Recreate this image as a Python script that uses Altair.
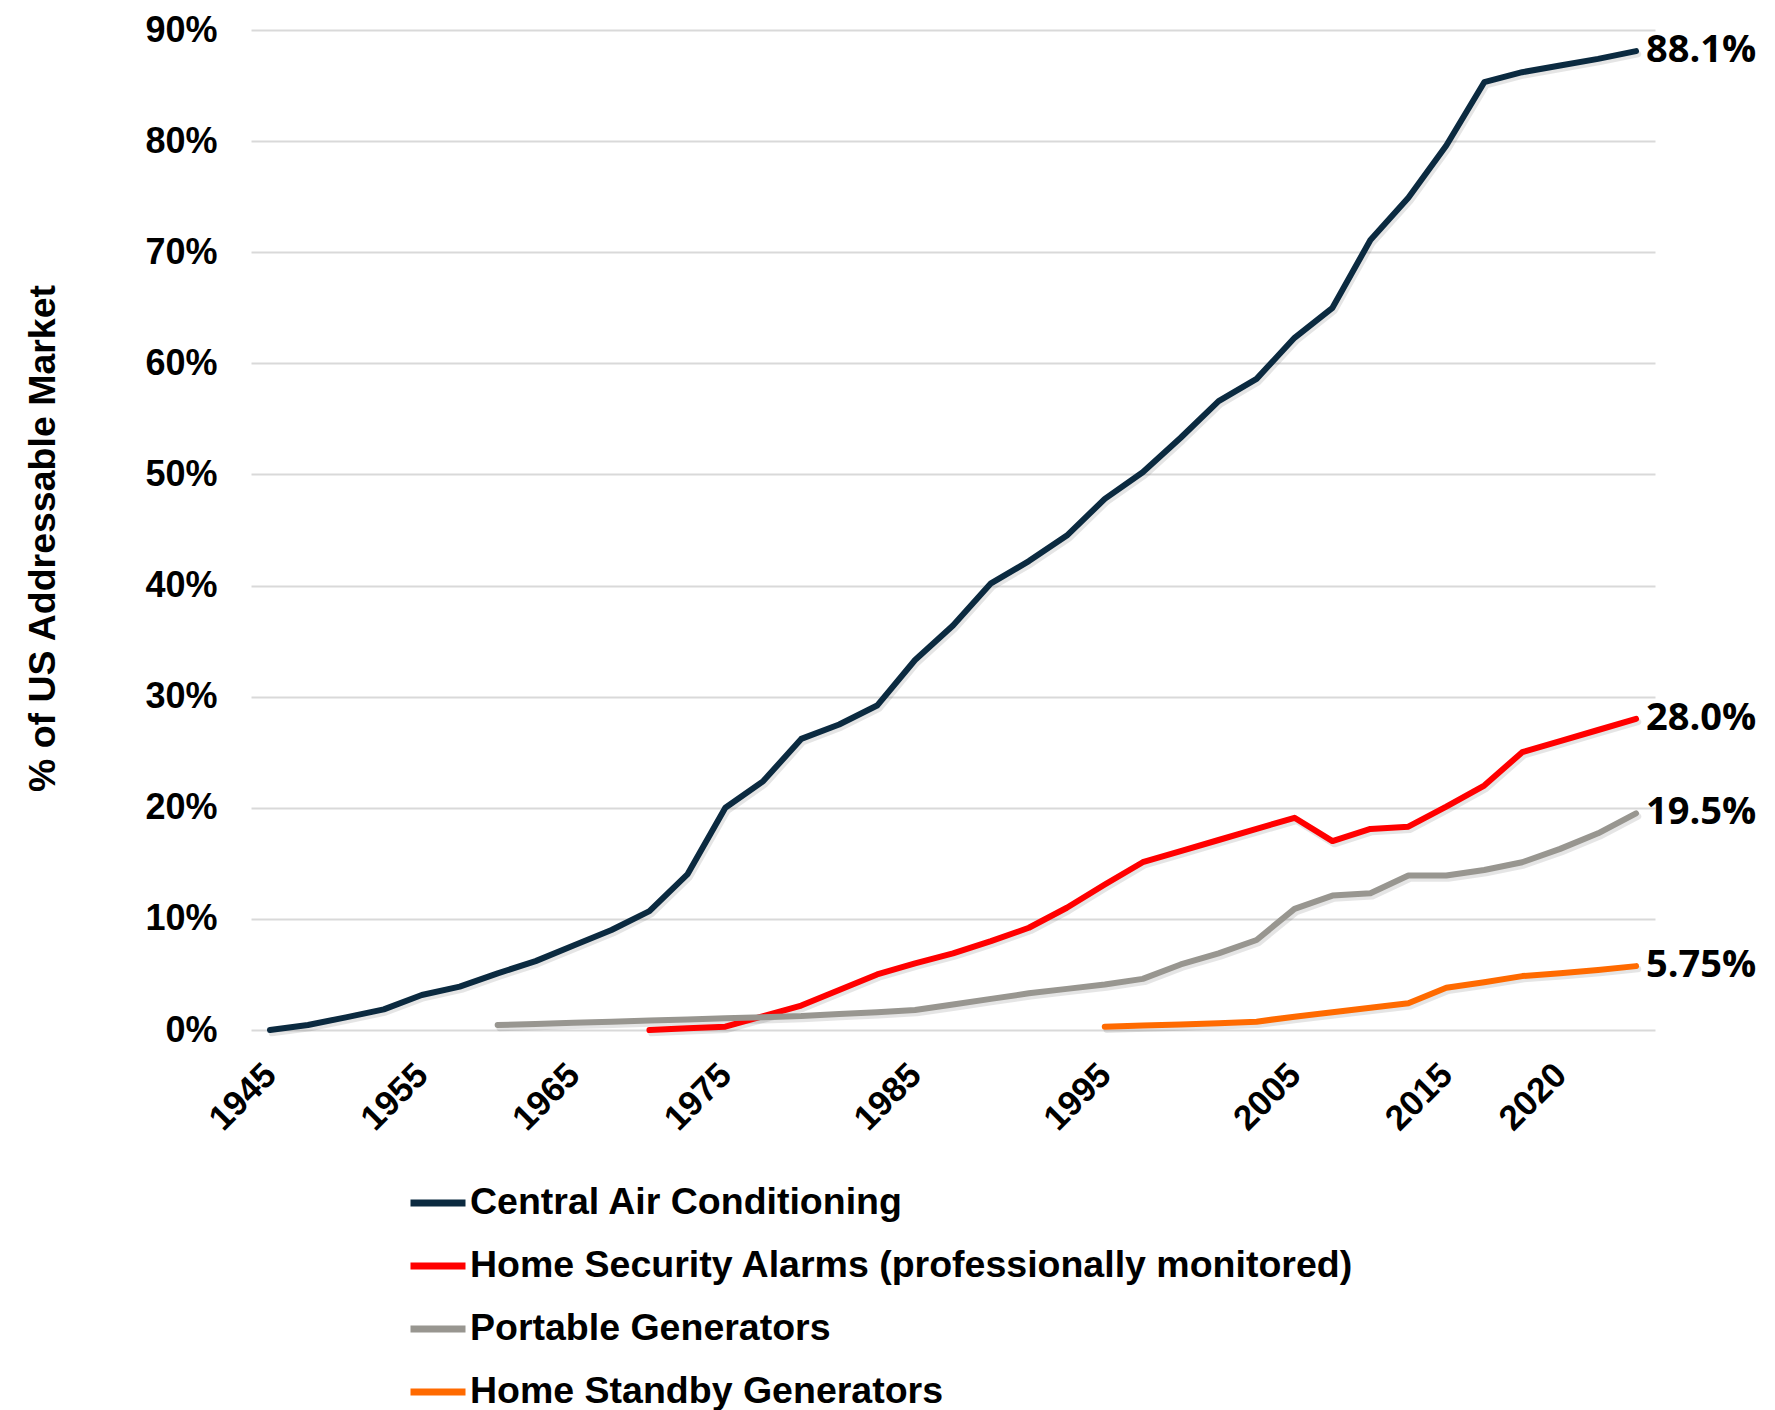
import altair as alt
import pandas as pd

# Category axis: 37 periods, only some carry a year label
period_labels = [
    "1945", "", "", "", "1955", "", "", "", "1965", "", "", "", "1975",
    "", "", "", "", "1985", "", "", "", "", "1995", "", "", "", "", "2005",
    "", "", "", "2015", "", "", "2020", "", "",
]

series_names = [
    "Central Air Conditioning",
    "Home Security Alarms (professionally monitored)",
    "Portable Generators",
    "Home Standby Generators",
]
series_colors = ["#0B2A40", "#FF0000", "#989690", "#FF6A00"]

# Adoption, % of addressable market; each series starts at its first period
central_ac = [0.0, 0.45, 1.14, 1.86, 3.15, 3.9, 5.1, 6.2, 7.6, 9.0, 10.7, 14.0,
              20.0, 22.4, 26.2, 27.5, 29.2, 33.3, 36.4, 40.2, 42.2, 44.5, 47.8,
              50.2, 53.3, 56.6, 58.6, 62.3, 65.0, 71.1, 74.9, 79.6, 85.3, 86.2,
              86.8, 87.4, 88.1]
security_start = 10
security_alarms = [0.0, 0.15, 0.3, 1.25, 2.2, 3.6, 5.0, 6.0, 6.9, 8.0, 9.2, 11.0,
                   13.1, 15.1, 16.1, 17.1, 18.1, 19.1, 17.0, 18.1, 18.3, 20.1,
                   22.0, 25.0, 26.0, 27.0, 28.0]
portable_start = 6
portable_gens = [0.45, 0.55, 0.65, 0.75, 0.85, 0.95, 1.05, 1.15, 1.26, 1.45, 1.6,
                 1.8, 2.3, 2.8, 3.3, 3.7, 4.1, 4.6, 5.9, 6.9, 8.1, 10.9, 12.1,
                 12.3, 13.9, 13.9, 14.4, 15.1, 16.3, 17.7, 19.5]
standby_start = 22
standby_gens = [0.3, 0.4, 0.5, 0.6, 0.75, 1.2, 1.6, 2.0, 2.4, 3.8, 4.3, 4.85,
                5.1, 5.4, 5.75]

y_ticks = [0, 10, 20, 30, 40, 50, 60, 70, 80, 90]

rows = []
for name, start, vals in [
    (series_names[0], 0, central_ac),
    (series_names[1], security_start, security_alarms),
    (series_names[2], portable_start, portable_gens),
    (series_names[3], standby_start, standby_gens),
]:
    for k, v in enumerate(vals):
        rows.append({"series": name, "idx": start + k, "value": v})
df = pd.DataFrame(rows)

last_idx = len(period_labels) - 1
tick_idx = [i for i, lab in enumerate(period_labels) if lab]
label_expr = "[" + ",".join("'" + lab + "'" for lab in period_labels) + "][datum.value]"

W, H = 1404, 1000
FONT = "Liberation Sans"

x_enc = alt.X(
    "idx:Q",
    scale=alt.Scale(domain=[-0.5, last_idx + 0.5], nice=False, zero=False),
    axis=alt.Axis(
        values=tick_idx, labelExpr=label_expr, labelAngle=-45,
        labelAlign="right", labelBaseline="middle", labelPadding=39,
        labelFont=FONT, labelFontWeight="bold", labelFontSize=35,
        labelColor="#000000", labelOverlap=False, labelBound=False,
        labelFlush=False, grid=False, ticks=False, domain=False, title=None,
    ),
)
y_enc = alt.Y(
    "value:Q",
    scale=alt.Scale(domain=[0, 90], nice=False),
    axis=alt.Axis(
        values=y_ticks, labelExpr="datum.value + '%'",
        labelFont=FONT, labelFontWeight="bold", labelFontSize=36,
        labelColor="#000000", labelPadding=34,
        grid=True, gridColor="#D9D9D9", gridWidth=2,
        ticks=False, domain=False,
        title="% of US Addressable Market", titleFont=FONT,
        titleFontWeight="bold", titleFontSize=37.5, titleColor="#000000",
        titleAngle=-90, titleX=-208, titleY=H / 2 + 8,
        titleAlign="center", titleBaseline="middle",
    ),
)

color_scale = alt.Scale(domain=series_names, range=series_colors)

shadow = alt.Chart(df).mark_line(
    strokeWidth=6.5, color="#000000", opacity=0.10, xOffset=2, yOffset=3,
    strokeCap="round", strokeJoin="round",
).encode(x=x_enc, y=y_enc, detail="series:N")

lines = alt.Chart(df).mark_line(
    strokeWidth=6, strokeCap="round", strokeJoin="round",
).encode(
    x=x_enc, y=y_enc,
    color=alt.Color(
        "series:N", scale=color_scale, sort=series_names,
        legend=alt.Legend(
            title=None, orient="none", legendX=156, legendY=1142,
            direction="vertical", symbolType="stroke", symbolSize=3025,
            symbolStrokeWidth=7, labelFont=FONT, labelFontWeight="bold",
            labelFontSize=37.5, labelColor="#000000", labelOffset=1,
            rowPadding=13, padding=0, labelLimit=1200,
        ),
    ),
)

end_labels = alt.Chart(df).transform_filter(
    alt.datum.idx == last_idx
).transform_calculate(
    label="format(datum.value, '.3r') + '%'"
).mark_text(
    align="left", baseline="middle", dx=10, font="Open Sans",
    fontWeight=700, fontSize=38, color="#000000",
).encode(x=x_enc, y=y_enc, text="label:N")

chart = alt.layer(shadow, lines, end_labels).properties(
    width=W, height=H,
    autosize=alt.AutoSizeParams(type="none"),
    padding={"left": 251, "top": 30, "right": 120, "bottom": 380},
    background="#FFFFFF",
).configure_view(stroke=None)

chart.save("out.html", embed_options={"renderer": "svg", "actions": False})
